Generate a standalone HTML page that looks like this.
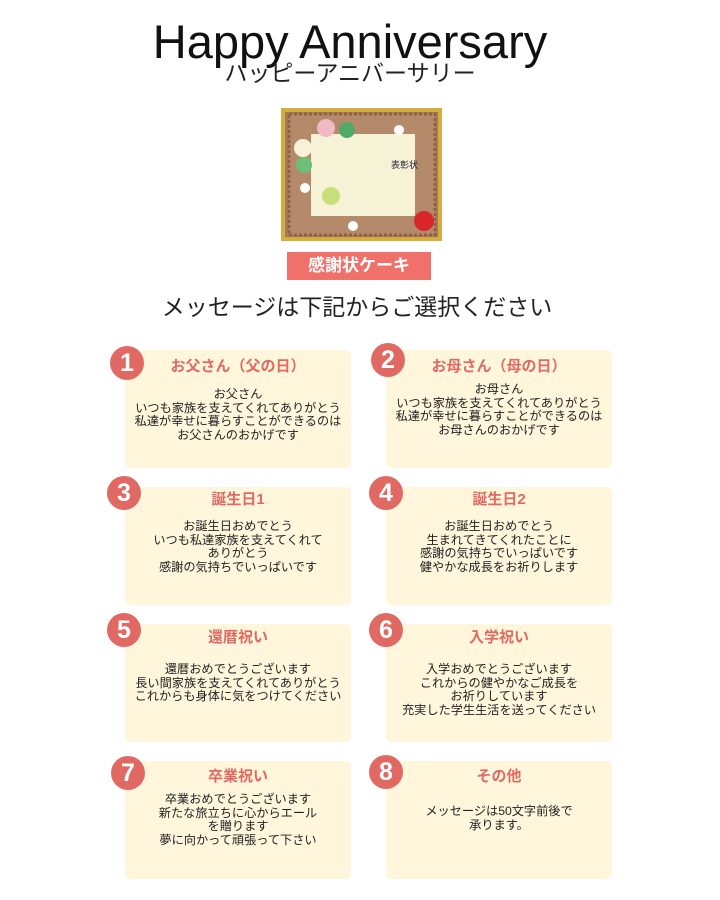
<!DOCTYPE html>
<html><head><meta charset="utf-8"><style>
body{margin:0;width:720px;height:900px;background:#fff;position:relative;font-family:"Liberation Sans","Noto Sans CJK JP",sans-serif;overflow:hidden}
.a{position:absolute}
.card{position:absolute;width:226px;height:118px;background:#fff6dc;border-radius:5px}
.num{position:absolute;width:34px;height:34px;border-radius:50%;background:#e06a63;color:#fff;font-weight:bold;font-size:25px;line-height:34px;text-align:center}
.t{position:absolute;width:226px;text-align:center;color:#e06a63;font-weight:bold;font-size:15px;line-height:16px}
.b{position:absolute;width:226px;text-align:center;color:#222;font-size:12.2px;line-height:13.5px}
</style></head><body>
<div class="a" style="left:0;width:700px;top:15px;text-align:center;font-size:47px;line-height:54px;color:#111">Happy Anniversary</div>
<div class="a" style="left:0;width:700px;top:60px;text-align:center;font-size:23px;line-height:26px;color:#222">ハッピーアニバーサリー</div>
<svg class="a" style="left:281px;top:108px" width="161" height="133">
<rect width="161" height="133" fill="#d6ad3c"/>
<rect x="4" y="4" width="153" height="125" fill="#a77a5a"/>
<rect x="8" y="6" width="146" height="121" fill="#b58a6a" stroke="#8c6347" stroke-dasharray="3 2" stroke-width="3"/>
<rect x="30" y="26" width="104" height="82" fill="#f6f2d6"/>
<text x="110" y="60" font-size="9" fill="#223" font-family="Noto Sans CJK JP">表彰状</text>
<circle cx="50" cy="88" r="9" fill="#c9e07a"/>
<circle cx="45" cy="20" r="9" fill="#f1b9c5"/><circle cx="66" cy="22" r="8" fill="#4faa69"/>
<circle cx="22" cy="40" r="9" fill="#f8f1d8"/><circle cx="23" cy="57" r="8" fill="#6bbf7b"/>
<circle cx="24" cy="80" r="5" fill="#fff"/><circle cx="118" cy="22" r="5" fill="#fff"/><circle cx="72" cy="118" r="5" fill="#fff"/>
<circle cx="143" cy="113" r="10" fill="#d9262a"/>
</svg>
<div class="a" style="left:287px;top:252px;width:144px;height:28px;background:#f0706a;color:#fff;font-weight:bold;font-size:17px;line-height:28px;text-align:center">感謝状ケーキ</div>
<div class="a" style="left:0;width:714px;top:293px;text-align:center;font-size:23px;line-height:28px;color:#222">メッセージは下記からご選択ください</div>

<div class="card" style="left:125px;top:350px"></div>
<div class="card" style="left:386px;top:350px"></div>
<div class="card" style="left:125px;top:487px"></div>
<div class="card" style="left:386px;top:487px"></div>
<div class="card" style="left:125px;top:624px"></div>
<div class="card" style="left:386px;top:624px"></div>
<div class="card" style="left:125px;top:761px"></div>
<div class="card" style="left:386px;top:761px"></div>

<div class="num" style="left:110px;top:346px">1</div>
<div class="num" style="left:371px;top:343px">2</div>
<div class="num" style="left:107px;top:476px">3</div>
<div class="num" style="left:369px;top:476px">4</div>
<div class="num" style="left:107px;top:613px">5</div>
<div class="num" style="left:369px;top:613px">6</div>
<div class="num" style="left:111px;top:756px">7</div>
<div class="num" style="left:369px;top:755px">8</div>

<div class="t" style="left:125px;top:359px">お父さん（父の日）</div>
<div class="t" style="left:386px;top:359px">お母さん（母の日）</div>
<div class="t" style="left:125px;top:492px">誕生日1</div>
<div class="t" style="left:386px;top:492px">誕生日2</div>
<div class="t" style="left:125px;top:630px">還暦祝い</div>
<div class="t" style="left:386px;top:630px">入学祝い</div>
<div class="t" style="left:125px;top:769px">卒業祝い</div>
<div class="t" style="left:386px;top:769px">その他</div>

<div class="b" style="left:125px;top:388px">お父さん<br>いつも家族を支えてくれてありがとう<br>私達が幸せに暮らすことができるのは<br>お父さんのおかげです</div>
<div class="b" style="left:386px;top:383px">お母さん<br>いつも家族を支えてくれてありがとう<br>私達が幸せに暮らすことができるのは<br>お母さんのおかげです</div>
<div class="b" style="left:125px;top:520px">お誕生日おめでとう<br>いつも私達家族を支えてくれて<br>ありがとう<br>感謝の気持ちでいっぱいです</div>
<div class="b" style="left:386px;top:520px">お誕生日おめでとう<br>生まれてきてくれたことに<br>感謝の気持ちでいっぱいです<br>健やかな成長をお祈りします</div>
<div class="b" style="left:125px;top:663px">還暦おめでとうございます<br>長い間家族を支えてくれてありがとう<br>これからも身体に気をつけてください</div>
<div class="b" style="left:386px;top:663px">入学おめでとうございます<br>これからの健やかなご成長を<br>お祈りしています<br>充実した学生生活を送ってください</div>
<div class="b" style="left:125px;top:793px">卒業おめでとうございます<br>新たな旅立ちに心からエール<br>を贈ります<br>夢に向かって頑張って下さい</div>
<div class="b" style="left:386px;top:805px">メッセージは50文字前後で<br>承ります。</div>
</body></html>
